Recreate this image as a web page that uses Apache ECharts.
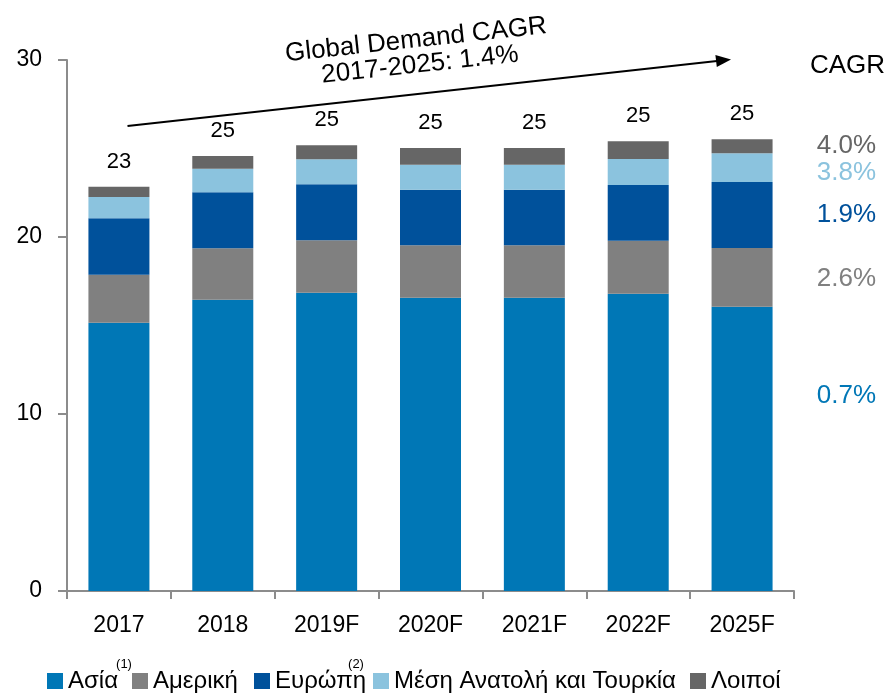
<!DOCTYPE html>
<html><head><meta charset="utf-8">
<script src="https://cdn.jsdelivr.net/npm/echarts@6/dist/echarts.min.js"></script>
<style>html,body{margin:0;padding:0;background:#fff}#c{width:888px;height:693px}</style>
</head><body><div id="c"></div>
<script>
var categories = ['2017','2018','2019F','2020F','2021F','2022F','2025F'];
var asia     = [15.16, 16.46, 16.85, 16.57, 16.57, 16.80, 16.06];
var americas = [2.71, 2.90, 2.96, 2.96, 2.96, 2.99, 3.32];
var europe   = [3.19, 3.17, 3.17, 3.14, 3.14, 3.15, 3.73];
var meTurkey = [1.20, 1.33, 1.41, 1.41, 1.41, 1.47, 1.62];
var others   = [0.58, 0.72, 0.79, 0.95, 0.95, 1.00, 0.79];
var totals   = ['23','25','25','25','25','25','25'];
var seriesNames = ['Ασία','Αμερική','Ευρώπη','Μέση Ανατολή και Τουρκία','Λοιποί'];
var cagrLabels = ['4.0%','3.8%','1.9%','2.6%','0.7%'];
var yTicks = [0, 10, 20, 30];

var colors = ['#0077B6','#808080','#00519B','#8BC3DE','#666666'];
var FONT = 'Liberation Sans, Arial, sans-serif';
var chart = echarts.init(document.getElementById('c'));
var dataSets = [asia, americas, europe, meTurkey, others];

var series = dataSets.map(function(d, i){
  var s = {
    name: seriesNames[i], type: 'bar', stack: 'total', data: d, barWidth: 61,
    itemStyle: {color: colors[i]}
  };
  if (i === 4) {
    s.label = {show: true, position: 'top', distance: 14, color: '#000', fontSize: 22, fontFamily: FONT,
      formatter: function(p){ return totals[p.dataIndex]; }};
  }
  return s;
});

var legendLefts = [47, 132, 254, 373, 690];
var legends = seriesNames.map(function(n, i){
  return {data: [n], left: legendLefts[i], top: 669, padding: 0, itemWidth: 16, itemHeight: 16, itemGap: 0,
    icon: 'rect', textStyle: {fontSize: 24, fontFamily: FONT, color: '#000'}};
});

var cagrY = [146, 173, 215, 279, 396];
var graphics = [
  {type:'line', shape:{x1:127.5, y1:126, x2:717, y2:61}, style:{stroke:'#000', lineWidth:2}},
  {type:'polygon', shape:{points:[[731,59.5],[716.8,67.1],[715.4,55.1]]}, style:{fill:'#000'}},
  {type:'text', x:416, y:40, rotation:0.108, style:{text:'Global Demand CAGR', fontSize:26, fontFamily:FONT, fill:'#000', textAlign:'center', textVerticalAlign:'middle'}},
  {type:'text', x:420, y:65, rotation:0.108, style:{text:'2017-2025: 1.4%', fontSize:26, fontFamily:FONT, fill:'#000', textAlign:'center', textVerticalAlign:'middle'}},
  {type:'text', x:885, y:66, style:{text:'CAGR', fontSize:26, fontFamily:FONT, fill:'#000', textAlign:'right', textVerticalAlign:'middle'}},
  {type:'text', x:124, y:664, style:{text:'(1)', fontSize:13, fontFamily:FONT, fill:'#000', textAlign:'center', textVerticalAlign:'middle'}},
  {type:'text', x:356, y:664, style:{text:'(2)', fontSize:13, fontFamily:FONT, fill:'#000', textAlign:'center', textVerticalAlign:'middle'}}
];
var cagrColors = [colors[4], colors[3], colors[2], colors[1], colors[0]];
cagrLabels.forEach(function(t, i){
  graphics.push({type:'text', x:876, y:cagrY[i], style:{text:t, fontSize:26, fontFamily:FONT, fill:cagrColors[i], textAlign:'right', textVerticalAlign:'middle'}});
});

chart.setOption({
  animation: false,
  grid: {left: 67, right: 94, top: 60, bottom: 102},
  xAxis: {type: 'category', data: categories,
    axisLine: {lineStyle: {color: '#8c8c8c', width: 2}},
    axisTick: {show: true, alignWithLabel: false, length: 8, lineStyle: {color: '#8c8c8c', width: 2}},
    axisLabel: {color: '#000', fontSize: 23, fontFamily: FONT, margin: 23}},
  yAxis: {type: 'value', min: yTicks[0], max: yTicks[yTicks.length-1], interval: 10,
    axisLine: {show: true, lineStyle: {color: '#8c8c8c', width: 2}},
    axisTick: {show: true, length: 9, lineStyle: {color: '#8c8c8c', width: 2}},
    splitLine: {show: false},
    axisLabel: {color: '#000', fontSize: 23, fontFamily: FONT, margin: 25}},
  legend: legends,
  series: series,
  graphic: graphics
});
</script></body></html>
